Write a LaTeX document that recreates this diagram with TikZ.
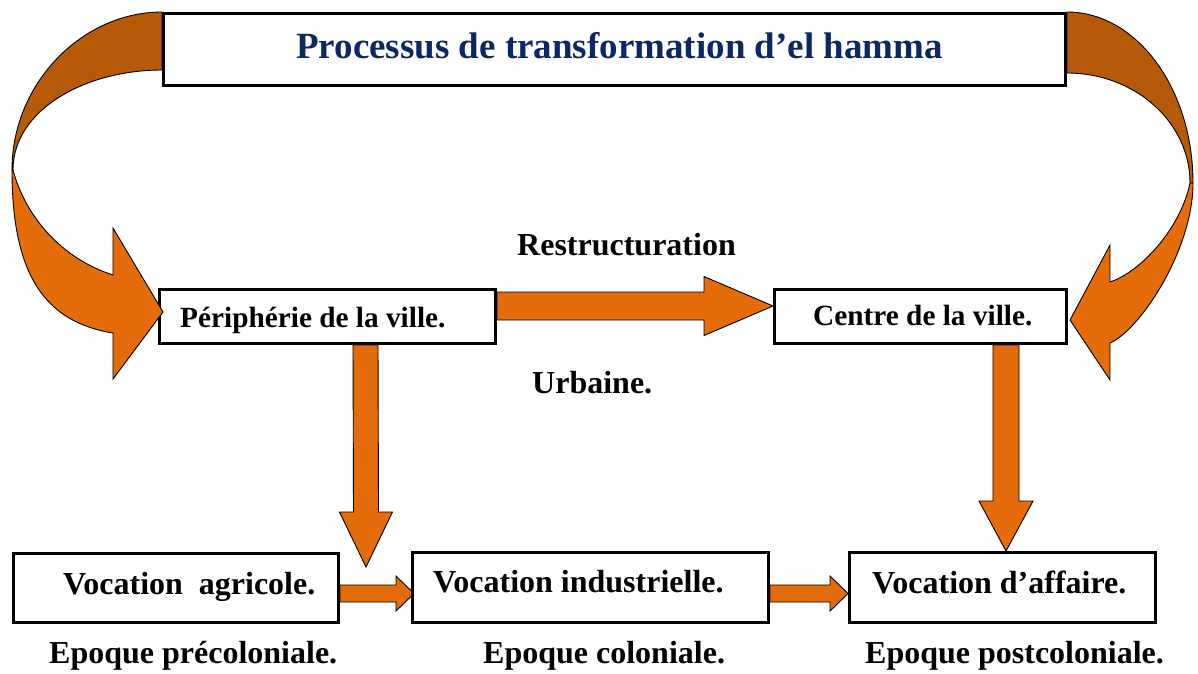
\documentclass[tikz,border=0pt]{standalone}
\usepackage{fontspec}
\setmainfont{Liberation Serif}
\usetikzlibrary{calc}
\definecolor{arrorange}{HTML}{E46C0A}
\definecolor{arrdark}{HTML}{B65A09}
\definecolor{titleblue}{HTML}{0C2864}
\newcommand\hblockarr[5]{\draw[barrow] ($(#1)+(0,-#3)$) -- ($(#2)+(-#5,-#3)$) -- ($(#2)+(-#5,-#4)$) -- (#2) -- ($(#2)+(-#5,#4)$) -- ($(#2)+(-#5,#3)$) -- ($(#1)+(0,#3)$) -- cycle;}
\newcommand\vblockarr[5]{\draw[barrow] ($(#1)+(-#3,0)$) -- ($(#2)+(-#3,-#5)$) -- ($(#2)+(-#4,-#5)$) -- (#2) -- ($(#2)+(#4,-#5)$) -- ($(#2)+(#3,-#5)$) -- ($(#1)+(#3,0)$) -- cycle;}
\tikzset{
  box/.style={draw=black, line width=2.6pt, fill=white, inner sep=0pt, outer sep=1.3pt},
  barrow/.style={draw=black, line width=0.9pt, fill=arrorange, line join=miter},
  frontband/.style={draw=black, line width=0.9pt, fill=arrorange, line join=miter},
  backband/.style={draw=black, line width=0.9pt, fill=arrdark},
  lbl/.style={anchor=base west, inner sep=0pt, font=\bfseries\fontsize{32}{36}\selectfont},
  lbls/.style={anchor=base west, inner sep=0pt, font=\bfseries\fontsize{29.3}{34}\selectfont},
}
\begin{document}
\begin{tikzpicture}[x=1pt,y=-1pt]
\useasboundingbox[fill=white] (0,0) rectangle (1198,673);

% boxes (positions only, drawn again later)
\path (614.5,49.5) node[box, minimum width=902.4pt, minimum height=72.4pt] (title) {};
\path (327.5,316.5) node[box, minimum width=336.4pt, minimum height=54.4pt] (peri) {};
\path (920.5,316.5) node[box, minimum width=292.4pt, minimum height=54.4pt] (centre) {};
\path (176,588) node[box, minimum width=325.4pt, minimum height=69.4pt] (agri) {};
\path (590.5,587.5) node[box, minimum width=356.4pt, minimum height=70.4pt] (indus) {};
\path (1002.5,587.5) node[box, minimum width=306.4pt, minimum height=70.4pt] (affaire) {};

% straight block arrows
\coordinate (rs) at ($(peri.east)+(0,-10.5)$);
\coordinate (rt) at ($(centre.west)+(0,-10.5)$);
\hblockarr{rs}{rt}{14}{29.5}{69}
\coordinate (ls) at ($(peri.south)+(38,0)$);
\coordinate (lt) at (366,567);
\vblockarr{ls}{lt}{12.5}{26.5}{55}
\coordinate (cs) at ($(centre.south)+(85.5,0)$);
\coordinate (ct) at ($(affaire.north)+(3.5,0)$);
\vblockarr{cs}{ct}{13}{27}{50}
\coordinate (a1s) at ($(agri.east)+(0,5.5)$);
\coordinate (a1t) at ($(indus.west)+(3,6)$);
\hblockarr{a1s}{a1t}{8.5}{17.5}{18}
\coordinate (a2s) at ($(indus.east)+(0,6)$);
\coordinate (a2t) at ($(affaire.west)+(0,6)$);
\hblockarr{a2s}{a2t}{8.5}{17.5}{18}

% redraw boxes on top of the arrow ends
\path (614.5,49.5) node[box, minimum width=902.4pt, minimum height=72.4pt] {};
\path (327.5,316.5) node[box, minimum width=336.4pt, minimum height=54.4pt] {};
\path (920.5,316.5) node[box, minimum width=292.4pt, minimum height=54.4pt] {};
\path (176,588) node[box, minimum width=325.4pt, minimum height=69.4pt] {};
\path (590.5,587.5) node[box, minimum width=356.4pt, minimum height=70.4pt] {};
\path (1002.5,587.5) node[box, minimum width=306.4pt, minimum height=70.4pt] {};

% curved arrows (left)
\draw[backband] (162,12) .. controls (82.8,12) and (12,82.7) .. (12,170) -- (13,170) .. controls (13,110) and (85,70) .. (162,70) -- cycle;
\draw[frontband] (12,170) .. controls (12,275) and (45,322) .. (113,333) -- (113,379) -- (163,312) -- (113,228) -- (113,275) .. controls (60,258) and (25,215) .. (13,170) -- cycle;
% curved arrows (right)
\draw[backband] (1067,12) .. controls (1136.6,12) and (1193,88.6) .. (1193,183) -- (1190,183) .. controls (1190,122.2) and (1134.9,73) .. (1067,73) -- cycle;
\draw[frontband] (1193,183) .. controls (1193,250) and (1140,330) .. (1110,343) -- (1110,380) -- (1070,320) -- (1110,245) -- (1110,282) .. controls (1140,272) and (1180,230) .. (1190,183) -- cycle;

% texts
\node[anchor=base west, inner sep=0pt, text=titleblue, font=\bfseries\fontsize{37}{42}\selectfont] (ttl) at (296,58) {Processus de transformation d’el hamma};
\node[lbls] (tperi) at (180,327) {Périphérie de la ville.};
\node[lbls] (tcentre) at (813,325) {Centre de la ville.};
\node[lbl] (trest) at (517,255) {Restructuration};
\node[lbl] (turb) at (532,393) {Urbaine.};
\node[lbl] (tagri) at (63,594) {Vocation\ \ agricole.};
\node[lbl] (tindus) at (433,592) {Vocation industrielle.};
\node[lbl] (taff) at (872,593) {Vocation d’affaire.};
\node[lbl] (tep1) at (49,663) {Epoque précoloniale.};
\node[lbl] (tep2) at (483,663) {Epoque coloniale.};
\node[lbl] (tep3) at (865,663) {Epoque postcoloniale.};
\end{tikzpicture}
\end{document}
